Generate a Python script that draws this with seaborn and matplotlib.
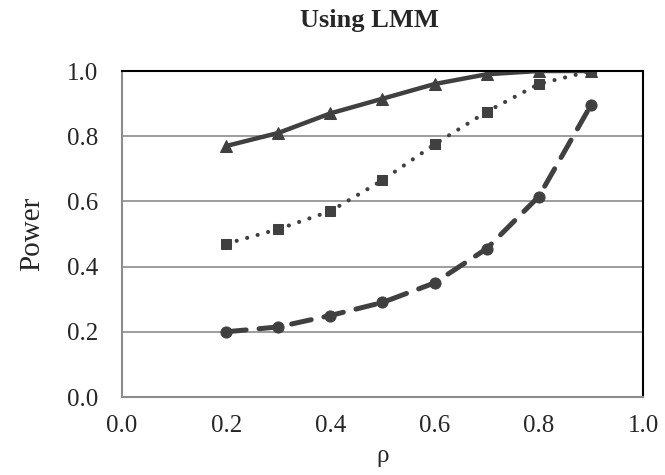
import matplotlib
matplotlib.use("Agg")
import matplotlib.pyplot as plt
import seaborn as sns
import pandas as pd

rho = [0.2, 0.3, 0.4, 0.5, 0.6, 0.7, 0.8, 0.9]
power_tri = [0.77, 0.81, 0.87, 0.915, 0.96, 0.99, 1.0, 1.0]
power_sq = [0.47, 0.515, 0.57, 0.665, 0.775, 0.875, 0.96, 1.0]
power_circ = [0.20, 0.215, 0.25, 0.29, 0.35, 0.455, 0.615, 0.895]
xticks = [0.0, 0.2, 0.4, 0.6, 0.8, 1.0]
yticks = [0.0, 0.2, 0.4, 0.6, 0.8, 1.0]

sns.set_theme(style="white")
plt.rcParams['font.family'] = ['Liberation Serif', 'DejaVu Serif']

fig = plt.figure(figsize=(6.65, 4.75), dpi=100)
ax = fig.add_axes([122/665, 1 - 397/475, (643-122)/665, (397-71)/475])

c = "#404040"
df = pd.DataFrame({"rho": rho, "tri": power_tri, "sq": power_sq, "circ": power_circ})

sns.lineplot(data=df, x="rho", y="tri", ax=ax, color=c, lw=3.2, marker="^",
             markersize=8, markeredgecolor=c, linestyle="-")
sns.lineplot(data=df, x="rho", y="sq", ax=ax, color=c, lw=3.0, marker="s",
             markersize=7, markeredgecolor=c, linestyle=(0, (0.01, 2.6)),
             dash_capstyle="round")
sns.lineplot(data=df, x="rho", y="circ", ax=ax, color=c, lw=3.6, marker="o",
             markersize=8, markeredgecolor=c, linestyle=(0, (4.0, 2.6)),
             dash_capstyle="round")
for l in ax.lines:
    l.set_solid_capstyle("round")

ax.set_xlim(0, 1)
ax.set_ylim(0, 1)
ax.set_xticks(xticks)
ax.set_yticks(yticks)
ax.set_xticklabels([f"{v:.1f}" for v in xticks], fontsize=18)
ax.set_yticklabels([f"{v:.1f}" for v in yticks], fontsize=18)
ax.tick_params(axis="x", length=0, pad=13)
ax.tick_params(axis="y", length=0, pad=17)
ax.yaxis.grid(True, color="#8c8c8c", lw=1.2)
ax.set_axisbelow(True)
for s in ["left", "bottom"]:
    ax.spines[s].set_color("#8c8c8c")
    ax.spines[s].set_linewidth(1.5)
for s in ["top", "right"]:
    ax.spines[s].set_color("black")
    ax.spines[s].set_linewidth(1.5)
ax.set_xlabel("ρ", fontsize=18, labelpad=6)
ax.set_ylabel("Power", fontsize=21, labelpad=16)
fig.text(369/665, 1 - 21/475, "Using LMM", ha="center", va="center", fontsize=19, fontweight="bold")

fig.savefig("out.png", dpi=100)
